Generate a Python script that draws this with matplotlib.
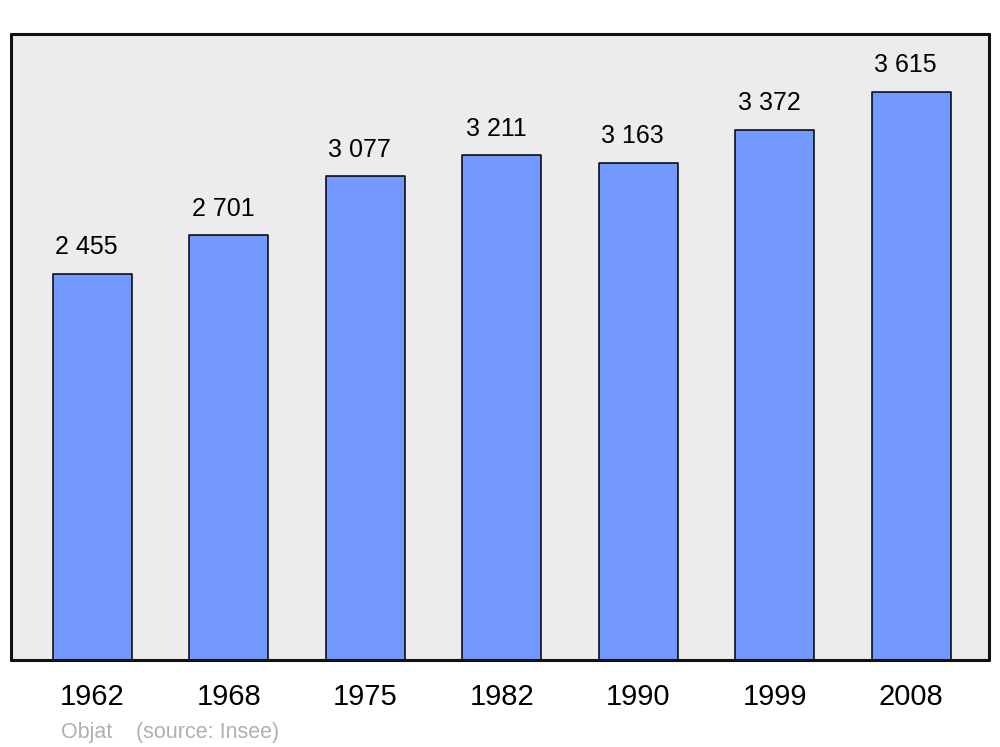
import matplotlib
matplotlib.use("Agg")
import matplotlib.pyplot as plt

years = ["1962", "1968", "1975", "1982", "1990", "1999", "2008"]
population = [2455, 2701, 3077, 3211, 3163, 3372, 3615]
value_labels = ["2 455", "2 701", "3 077", "3 211", "3 163", "3 372", "3 615"]
commune = "Objat"
source = "(source: Insee)"

plt.rcParams['font.family'] = ['Liberation Sans', 'DejaVu Sans']

fig = plt.figure(figsize=(10, 7.47), dpi=100)
ax = fig.add_axes([0.011, 0.1165, 0.978, 0.838])
ax.set_facecolor('#ececec')

x = list(range(len(years)))
bars = ax.bar(x, population, width=0.58, color='#7399ff', edgecolor='black',
              linewidth=1.1, joinstyle='round', zorder=2)
for xi, v, lab in zip(x, population, value_labels):
    ax.annotate(lab, (xi, v), xytext=(-4, 10.5), textcoords='offset points',
                ha='center', va='bottom', fontsize=18)

ax.set_xlim(-0.595, 6.57)
ax.set_ylim(0, 3982)
ax.set_yticks([])
ax.set_xticks(x)
ax.set_xticklabels(years, fontsize=21)
ax.tick_params(axis='x', length=0, pad=16.5)
for s in ax.spines.values():
    s.set_linewidth(2.2)
    s.set_color('#111111')
    s.set_capstyle('round')
    s.set_joinstyle('round')

fig.text(0.061, 0.005, commune, fontsize=15.5, color='#b0b0b0', ha='left', va='bottom')
fig.text(0.136, 0.005, source, fontsize=15.5, color='#b0b0b0', ha='left', va='bottom')

fig.savefig('out.png', dpi=100)
